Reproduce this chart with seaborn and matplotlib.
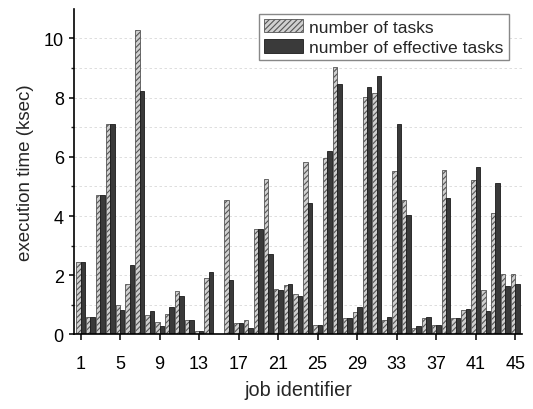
import pandas as pd
import matplotlib
matplotlib.use("Agg")
import matplotlib.pyplot as plt
import seaborn as sns

# Values (ksec)
jobs = list(range(1, 46))
tasks = [2.45, 0.60, 4.72, 7.10, 1.00, 1.70, 10.27, 0.67, 0.42, 0.70,
         1.45, 0.50, 0.12, 1.92, 0.02, 4.53, 0.40, 0.47, 3.56, 5.25,
         1.55, 1.66, 1.35, 5.83, 0.32, 5.97, 9.02, 0.55, 0.77, 8.01,
         8.17, 0.48, 5.52, 4.54, 0.21, 0.56, 0.33, 5.54, 0.55, 0.84,
         5.21, 1.50, 4.11, 2.03, 2.03]
effective = [2.45, 0.60, 4.72, 7.10, 0.82, 2.33, 8.22, 0.80, 0.30, 0.92,
             1.30, 0.50, 0.10, 2.10, 0.02, 1.83, 0.40, 0.23, 3.56, 2.72,
             1.49, 1.70, 1.28, 4.45, 0.32, 6.21, 8.47, 0.55, 0.92, 8.36,
             8.72, 0.58, 7.12, 4.03, 0.28, 0.60, 0.32, 4.60, 0.55, 0.87,
             5.67, 0.79, 5.12, 1.63, 1.71]
labels = ["number of tasks", "number of effective tasks"]

df = pd.DataFrame({
    "job": jobs * 2,
    "time": tasks + effective,
    "series": [labels[0]] * len(jobs) + [labels[1]] * len(jobs),
})

sns.set_style("ticks")
plt.rcParams["font.family"] = ["Liberation Sans", "DejaVu Sans"]
plt.rcParams["hatch.linewidth"] = 0.8

fig = plt.figure(figsize=(5.33, 4.10), dpi=100)
ax = fig.add_axes([0.139, 0.182, 0.8405, 0.794])

sns.barplot(data=df, x="job", y="time", hue="series", order=jobs,
            hue_order=labels, width=0.9, gap=0, dodge=True,
            palette=["#d0d0d0", "#3a3a3a"], saturation=1, ax=ax)

# style: hatched light bars, solid dark bars
for bar in ax.containers[0]:
    bar.set_hatch("//////")
    bar.set_edgecolor("#555555")
    bar.set_linewidth(0.6)
for bar in ax.containers[1]:
    bar.set_edgecolor("#1a1a1a")
    bar.set_linewidth(0.6)

ax.set_xlim(-0.65, 44.7)
ax.set_ylim(0, 11)
ax.set_xticks(range(0, 45, 4))
ax.set_xticklabels([str(j) for j in jobs[::4]])
ax.set_yticks(range(0, 11, 2))
ax.set_yticks(range(1, 11, 2), minor=True)
ax.tick_params(axis="y", which="major", direction="out", length=3.8, width=1.1, pad=3.6)
ax.tick_params(axis="y", which="minor", direction="out", length=2.5, width=1)
ax.tick_params(axis="x", direction="out", length=4.3, width=1.1, pad=10.5)
ax.tick_params(axis="both", labelsize=13, colors="black")

ax.grid(axis="y", which="both", color="#d8d8d8", linestyle=(0, (3, 3)), linewidth=0.6)
ax.set_axisbelow(True)

sns.despine(ax=ax)
for side in ["left", "bottom"]:
    ax.spines[side].set_color("black")
    ax.spines[side].set_linewidth(1.2)

ax.set_xlabel("job identifier", fontsize=14.3, labelpad=6)
ax.set_ylabel("execution time (ksec)", fontsize=13.5, labelpad=7)

ax.legend(handles=ax.containers, labels=labels, loc="upper right",
          bbox_to_anchor=(0.97, 0.985), fontsize=12.6, fancybox=False,
          framealpha=1, edgecolor="#888888", handlelength=2.2,
          handleheight=0.8, borderpad=0.3, labelspacing=0.25,
          handletextpad=0.35, borderaxespad=0)

fig.savefig("out.png", dpi=100)
